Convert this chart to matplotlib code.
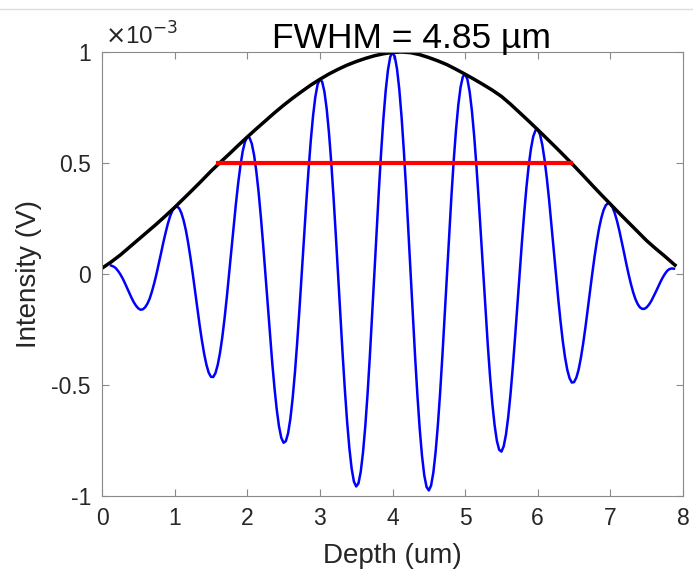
import numpy as np
import matplotlib
matplotlib.use('Agg')
import matplotlib.pyplot as plt
from matplotlib.lines import Line2D

plt.rcParams['font.family'] = ['Liberation Sans', 'DejaVu Sans']
plt.rcParams['axes.unicode_minus'] = False

# interference signal, sampled every 1/32 um from 0.125 to 7.875 (values in 1e-3 V)
depth = np.arange(4, 253) / 32
signal = [
    # 0.125 - 0.97
    0.038, 0.034, 0.027, 0.015, 0.0, -0.018, -0.039, -0.062, -0.085, -0.107, -0.127, -0.143, -0.155, -0.161,
    -0.159, -0.150, -0.134, -0.111, -0.079, -0.042, 0.0, 0.046, 0.093, 0.141, 0.185, 0.226, 0.260, 0.285,
    # 1.0 - 1.97
    0.300, 0.304, 0.296, 0.274, 0.240, 0.195, 0.138, 0.072, 0.0, -0.076, -0.153, -0.229, -0.298, -0.359, -0.408, -0.444,
    -0.463, -0.464, -0.446, -0.409, -0.355, -0.285, -0.200, -0.104, 0.0, 0.107, 0.214, 0.316, 0.409, 0.489, 0.553, 0.596,
    # 2.0 - 2.97
    0.617, 0.614, 0.587, 0.536, 0.462, 0.369, 0.257, 0.133, 0.0, -0.136, -0.271, -0.399, -0.513, -0.611, -0.687, -0.738,
    -0.760, -0.753, -0.717, -0.652, -0.560, -0.445, -0.309, -0.159, 0.0, 0.162, 0.321, 0.469, 0.602, 0.713, 0.798, 0.854,
    # 3.0 - 3.97
    0.877, 0.866, 0.821, 0.744, 0.637, 0.504, 0.349, 0.179, 0.0, -0.181, -0.357, -0.520, -0.665, -0.785, -0.877, -0.935,
    -0.957, -0.943, -0.891, -0.804, -0.687, -0.542, -0.374, -0.191, 0.0, 0.192, 0.378, 0.550, 0.701, 0.826, 0.919, 0.978,
    # 4.0 - 4.97
    0.998, 0.980, 0.923, 0.831, 0.707, 0.555, 0.383, 0.195, 0.0, -0.194, -0.380, -0.550, -0.699, -0.819, -0.907, -0.959,
    -0.975, -0.953, -0.894, -0.801, -0.679, -0.532, -0.365, -0.185, 0.0, 0.183, 0.357, 0.515, 0.652, 0.762, 0.842, 0.889,
    # 5.0 - 5.97
    0.900, 0.877, 0.821, 0.734, 0.620, 0.484, 0.331, 0.168, 0.0, -0.165, -0.322, -0.464, -0.585, -0.682, -0.752, -0.792,
    -0.800, -0.776, -0.723, -0.643, -0.541, -0.420, -0.286, -0.144, 0.0, 0.140, 0.271, 0.389, 0.487, 0.564, 0.619, 0.647,
    # 6.0 - 6.97
    0.650, 0.628, 0.582, 0.515, 0.431, 0.334, 0.226, 0.113, 0.0, -0.109, -0.210, -0.300, -0.374, -0.431, -0.469, -0.489,
    -0.487, -0.467, -0.431, -0.378, -0.314, -0.241, -0.162, -0.080, 0.0, 0.076, 0.145, 0.205, 0.252, 0.288, 0.310, 0.319,
    # 7.0 - 7.875
    0.315, 0.299, 0.272, 0.236, 0.193, 0.146, 0.097, 0.047, 0.0, -0.043, -0.081, -0.112, -0.135, -0.150, -0.157, -0.157,
    -0.150, -0.138, -0.122, -0.102, -0.081, -0.059, -0.037, -0.017, 0.0, 0.014, 0.022, 0.025, 0.024,
]

# envelope (1e-3 V), every 0.125 um
env_x = list(np.arange(0, 64) / 8) + [7.89]
env_y = [0.026, 0.054, 0.085, 0.120, 0.155, 0.190, 0.225, 0.262,
         0.300, 0.340, 0.380, 0.421, 0.463, 0.502, 0.540, 0.579,
         0.617, 0.654, 0.690, 0.726, 0.760, 0.792, 0.822, 0.851,
         0.877, 0.901, 0.922, 0.941, 0.957, 0.971, 0.983, 0.992,
         0.998, 1.000, 0.997, 0.988, 0.975, 0.960, 0.943, 0.922,
         0.900, 0.877, 0.853, 0.828, 0.800, 0.765, 0.727, 0.689,
         0.650, 0.610, 0.570, 0.529, 0.487, 0.444, 0.400, 0.357,
         0.315, 0.273, 0.232, 0.191, 0.150, 0.114, 0.080, 0.044,
         0.040]

# half maximum line
fwhm_x = [1.6, 6.46]
fwhm_y = [0.5, 0.5]

fig = plt.figure(figsize=(6.93, 5.69), dpi=100)
ax = fig.add_axes([102 / 693, 73 / 569, 581 / 693, 444 / 569])

ax.plot(depth, signal, color='#0000ff', lw=1.8)
ax.plot(env_x, env_y, color='black', lw=2.5)
ax.plot(fwhm_x, fwhm_y, color='#ff0000', lw=3.0)

ax.set_xlim(0, 8)
ax.set_ylim(-1, 1)
ax.set_xticks(range(0, 9))
ax.set_yticks([-1, -0.5, 0, 0.5, 1])
ax.set_yticklabels(['-1', '-0.5', '0', '0.5', '1'])

for s in ax.spines.values():
    s.set_color('#8a8a8a')
    s.set_linewidth(0.8)
ax.tick_params(direction='in', length=5, width=0.8, color='#8a8a8a',
               labelsize=16.5, labelcolor='#262626', top=True, right=True, pad=8)

ax.set_xlabel('Depth (um)', fontsize=20, color='#262626', labelpad=9)
ax.set_ylabel('Intensity (V)', fontsize=20, color='#262626', labelpad=7)

fig.text(105 / 693, 1 - 45 / 569, r'$\times$10$^{-3}$', fontsize=17.5, color='#262626',
         ha='left', va='baseline')
fig.text(412 / 693, 1 - 48 / 569, 'FWHM = 4.85 µm', fontsize=25.5, color='black',
         ha='center', va='baseline')

# thin separator line at the very top of the screenshot
fig.add_artist(Line2D([0, 1], [1 - 9 / 569, 1 - 9 / 569], color='#dddddd', lw=1,
                      transform=fig.transFigure))

plt.savefig('out.png', dpi=100)
